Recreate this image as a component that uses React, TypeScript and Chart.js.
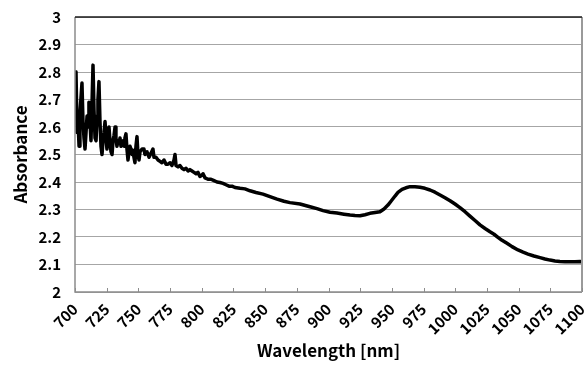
import React, { useEffect, useRef } from "react";
import { Chart, registerables } from "chart.js";

Chart.register(...registerables);

const wavelengths = [
  700, 700.8, 701.6, 702.4, 703.2, 703.9, 705.5, 706.3, 707.1, 707.9, 708.7, 709.5, 710.3, 711.0, 711.8,
  712.6, 713.4, 714.2, 715.0, 715.8, 716.6, 717.4, 718.1, 718.9, 719.7, 720.5, 721.3, 722.1, 722.9, 723.7,
  724.5, 725.2, 726.0, 726.8, 727.6, 728.4, 729.2, 730.0, 730.8, 731.6, 732.3, 733.1, 733.9, 734.7, 735.5,
  736.3, 737.1, 737.9, 738.7, 739.4, 740.2, 741.0, 741.8, 742.6, 743.4, 744.2, 745.0, 745.8, 746.5, 747.3,
  748.1, 748.9, 749.7, 750.5, 751.3, 752.9, 754.4, 755.2, 756.8, 758.4, 760.0, 761.5, 762.3, 763.9, 765.5,
  767.1, 768.6, 770.2, 771.8, 773.4, 775.0, 776.5, 778.1, 778.9, 779.7, 781.3, 782.8, 784.4, 786.0, 787.6,
  789.2, 790.7, 792.3, 793.9, 795.5, 797.0, 798.6, 800.2, 801.0, 802.6, 804.9, 807.3, 809.7, 812.0, 814.4,
  816.8, 819.1, 821.5, 823.9, 826.2, 830.2, 834.1, 838.1, 842.8, 848.3, 853.8, 859.4, 864.9, 869.6, 877.5,
  885.4, 890.9, 895.7, 901.2, 906.7, 912.2, 917.0, 920.9, 924.9, 928.8, 932.7, 936.7, 940.6, 943.8, 946.9,
  949.3, 952.5, 954.8, 958.0, 961.1, 964.3, 968.2, 972.2, 976.1, 980.1, 984.0, 988.0, 991.9, 995.9, 999.8,
  1003.7, 1007.7, 1011.6, 1015.6, 1019.5, 1023.5, 1027.4, 1030.6, 1033.7, 1036.9, 1040.8, 1044.8, 1049.5,
  1053.5, 1057.4, 1062.1, 1066.9, 1070.8, 1074.8, 1078.7, 1082.6, 1086.6, 1090.5, 1094.5, 1098.4, 1100,
];

const absorbance = [
  2.79, 2.8, 2.58, 2.62, 2.53, 2.65, 2.76, 2.62, 2.56, 2.52, 2.58, 2.64, 2.6, 2.69, 2.62,
  2.55, 2.68, 2.825, 2.66, 2.56, 2.55, 2.64, 2.7, 2.765, 2.62, 2.53, 2.5, 2.55, 2.58, 2.62,
  2.56, 2.52, 2.56, 2.6, 2.55, 2.51, 2.5, 2.55, 2.57, 2.6, 2.56, 2.53, 2.55, 2.54, 2.56,
  2.53, 2.545, 2.55, 2.53, 2.56, 2.575, 2.52, 2.48, 2.51, 2.53, 2.52, 2.5, 2.515, 2.49, 2.47,
  2.53, 2.565, 2.5, 2.48, 2.51, 2.52, 2.52, 2.5, 2.51, 2.49, 2.505, 2.52, 2.49, 2.49, 2.48,
  2.475, 2.47, 2.48, 2.465, 2.465, 2.47, 2.46, 2.48, 2.5, 2.46, 2.455, 2.46, 2.45, 2.445, 2.45,
  2.44, 2.445, 2.44, 2.435, 2.43, 2.435, 2.42, 2.425, 2.43, 2.415, 2.41, 2.41, 2.405, 2.4, 2.398,
  2.395, 2.39, 2.385, 2.385, 2.38, 2.377, 2.375, 2.368, 2.362, 2.356, 2.347, 2.338, 2.33, 2.325, 2.32,
  2.31, 2.303, 2.296, 2.29, 2.287, 2.283, 2.28, 2.278, 2.277, 2.281, 2.286, 2.289, 2.292, 2.302, 2.316,
  2.33, 2.349, 2.362, 2.373, 2.379, 2.383, 2.383, 2.381, 2.377, 2.371, 2.363, 2.353, 2.343, 2.332, 2.32,
  2.307, 2.292, 2.276, 2.26, 2.244, 2.231, 2.219, 2.21, 2.199, 2.188, 2.177, 2.165, 2.153,
  2.145, 2.138, 2.131, 2.125, 2.12, 2.116, 2.113, 2.111, 2.11, 2.11, 2.11, 2.111, 2.11,
];

const xTicks = [700, 725, 750, 775, 800, 825, 850, 875, 900, 925, 950, 975, 1000, 1025, 1050, 1075, 1100];
const yTicks = [2, 2.1, 2.2, 2.3, 2.4, 2.5, 2.6, 2.7, 2.8, 2.9, 3];
const yTickLabels = ["2", "2.1", "2.2", "2.3", "2.4", "2.5", "2.6", "2.7", "2.8", "2.9", "3"];

const xTitle = "Wavelength [nm]";
const yTitle = "Absorbance";

const FONT = "'Noto Sans CJK JP', 'Liberation Sans', sans-serif";

const framePlugin = {
  id: "frame",
  afterDatasetsDraw(chart: any) {
    const { ctx, chartArea, scales } = chart;
    const { left, right, top, bottom } = chartArea;
    ctx.save();
    ctx.strokeStyle = "#8c8c8c";
    ctx.lineWidth = 1.5;
    ctx.beginPath();
    ctx.moveTo(left, top);
    ctx.lineTo(left, bottom);
    ctx.lineTo(right, bottom);
    ctx.stroke();
    ctx.strokeStyle = "#9a9a9a";
    ctx.lineWidth = 2;
    ctx.beginPath();
    ctx.moveTo(right, top);
    ctx.lineTo(right, bottom);
    ctx.stroke();
    ctx.strokeStyle = "#1a1a1a";
    ctx.lineWidth = 1.5;
    ctx.beginPath();
    ctx.moveTo(left, top);
    ctx.lineTo(right, top);
    ctx.stroke();
    ctx.strokeStyle = "#8c8c8c";
    ctx.lineWidth = 1;
    const xs = scales.x;
    xTicks.forEach((v) => {
      const px = Math.round(xs.getPixelForValue(v)) + 0.5;
      ctx.beginPath();
      ctx.moveTo(px, bottom);
      ctx.lineTo(px, bottom - 4);
      ctx.stroke();
    });
    ctx.restore();
  },
};

export default function App() {
  const canvasRef = useRef<HTMLCanvasElement | null>(null);

  useEffect(() => {
    document.body.style.margin = "0";
    const canvas = canvasRef.current;
    if (!canvas) return;
    const points = wavelengths.map((w, i) => ({ x: w, y: absorbance[i] }));
    const chart = new Chart(canvas, {
      type: "line",
      data: {
        datasets: [
          {
            data: points,
            borderColor: "#000000",
            borderWidth: 3.5,
            borderJoinStyle: "round",
            borderCapStyle: "round",
            pointRadius: 0,
            tension: 0,
            fill: false,
          },
        ],
      },
      options: {
        animation: false,
        responsive: false,
        maintainAspectRatio: false,
        layout: { padding: { left: 0, right: 4, top: 17, bottom: 0 } },
        plugins: {
          legend: { display: false },
          tooltip: { enabled: false },
        },
        scales: {
          x: {
            type: "linear",
            min: 700,
            max: 1100,
            afterBuildTicks: (scale: any) => {
              scale.ticks = xTicks.map((v) => ({ value: v }));
            },
            afterFit: (scale: any) => {
              scale.height = 77;
              scale.paddingLeft = 0;
              scale.paddingRight = 0;
            },
            grid: { display: false, drawTicks: false },
            border: { display: false },
            ticks: {
              minRotation: 45,
              maxRotation: 45,
              autoSkip: false,
              padding: 8,
              color: "#000",
              font: { family: FONT, size: 15, weight: "bold" },
              callback: (v: any) => String(v),
            },
            title: {
              display: true,
              text: xTitle,
              color: "#000",
              font: { family: FONT, size: 17, weight: "bold" },
              padding: { top: 0, bottom: 8 },
            },
          },
          y: {
            type: "linear",
            min: 2,
            max: 3,
            afterBuildTicks: (scale: any) => {
              scale.ticks = yTicks.map((v) => ({ value: v }));
            },
            afterFit: (scale: any) => {
              scale.width = 75;
              scale.paddingTop = 0;
              scale.paddingBottom = 0;
            },
            grid: { color: "#a6a6a6", lineWidth: 1, drawTicks: false },
            border: { display: false },
            ticks: {
              padding: 14,
              color: "#000",
              font: { family: FONT, size: 15, weight: "bold" },
              callback: (v: any) => {
                const i = yTicks.findIndex((t) => Math.abs(t - v) < 1e-6);
                return i >= 0 ? yTickLabels[i] : "";
              },
            },
            title: {
              display: true,
              text: yTitle,
              color: "#000",
              font: { family: FONT, size: 17, weight: "bold" },
              padding: { top: 10, bottom: 0 },
            },
          },
        },
      },
      plugins: [framePlugin],
    });
    return () => chart.destroy();
  }, []);

  return (
    <div style={{ position: "absolute", left: 0, top: 0, width: 586, height: 369, background: "#fff" }}>
      <canvas ref={canvasRef} width={586} height={369} style={{ width: 586, height: 369 }} />
    </div>
  );
}
